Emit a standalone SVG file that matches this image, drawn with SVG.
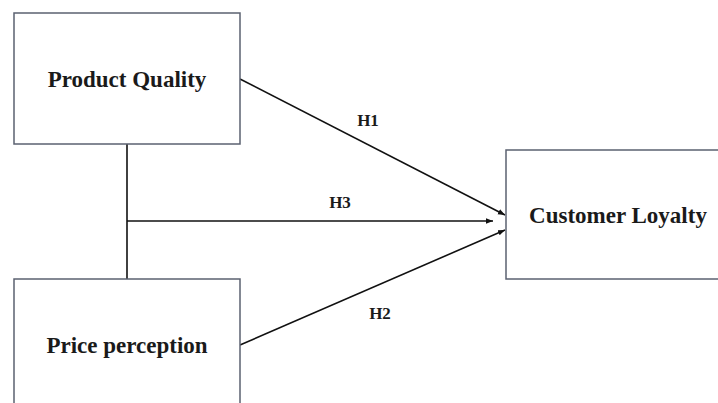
<svg xmlns="http://www.w3.org/2000/svg" width="718" height="403" viewBox="0 0 718 403">
<style>
.box{fill:#ffffff;stroke:#5b6170;stroke-width:1.5}
.lbl{font-family:"Liberation Serif","DejaVu Serif",serif;font-weight:bold;fill:#1a1a1a;text-anchor:middle}
.big{font-size:23px}
.small{font-size:17px}
.ln{stroke:#111;stroke-width:1.6;fill:none}
</style>
<defs>
<marker id="arr" viewBox="0 0 10 10" refX="10" refY="5" markerWidth="7" markerHeight="7" markerUnits="userSpaceOnUse" orient="auto">
<path d="M0,1 L10,5 L0,9 Z" fill="#111"/>
</marker>
</defs>
<rect width="718" height="403" fill="#ffffff"/>
<g id="connectors">
<line class="ln" x1="127" y1="144" x2="127" y2="279"/>
<line class="ln" x1="127" y1="221" x2="493" y2="221" marker-end="url(#arr)"/>
<line class="ln" x1="240" y1="79" x2="505" y2="215" marker-end="url(#arr)"/>
<line class="ln" x1="240" y1="345" x2="505" y2="230" marker-end="url(#arr)"/>
<text class="lbl small" x="368" y="126">H1</text>
<text class="lbl small" x="340" y="208">H3</text>
<text class="lbl small" x="380" y="319">H2</text>
</g>
<g id="product-quality">
<rect class="box" x="14" y="13" width="226" height="131"/>
<text class="lbl big" x="127" y="87">Product Quality</text>
</g>
<g id="price-perception">
<rect class="box" x="14" y="279" width="226" height="140"/>
<text class="lbl big" x="127" y="353">Price perception</text>
</g>
<g id="customer-loyalty">
<rect class="box" x="506" y="150" width="230" height="129"/>
<text class="lbl big" x="618" y="223">Customer Loyalty</text>
</g>
</svg>
